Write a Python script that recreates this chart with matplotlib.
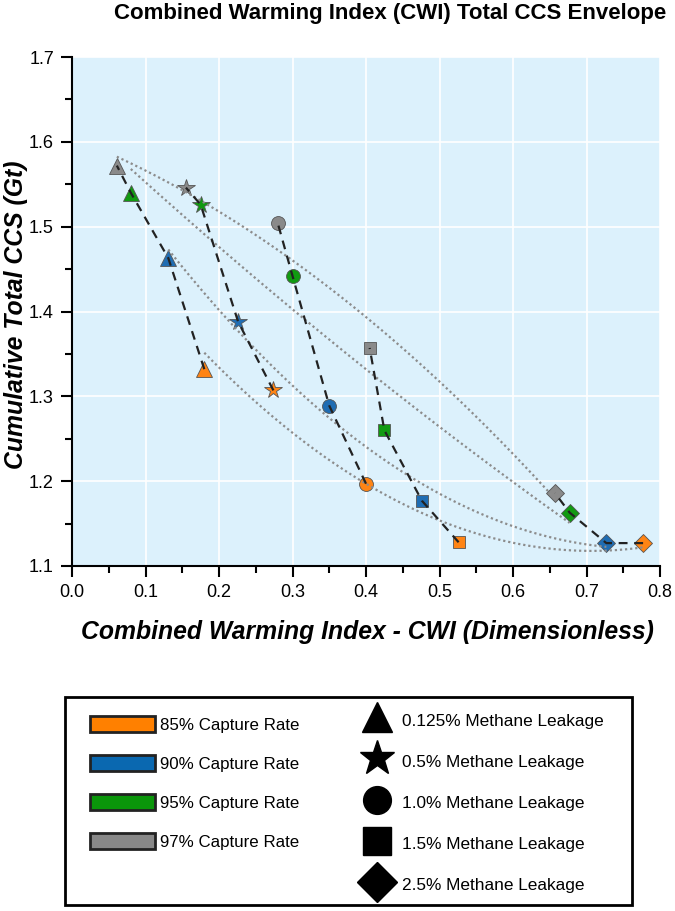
import numpy as np
import matplotlib.pyplot as plt
from matplotlib.lines import Line2D
from matplotlib.patches import Patch, Rectangle

plt.rcParams['font.family'] = ['Liberation Sans', 'DejaVu Sans']

# CWI (x) and cumulative total CCS (y), one list per capture rate,
# points ordered by methane leakage: 0.125%, 0.5%, 1.0%, 1.5%, 2.5%
capture_rates = ['85% Capture Rate', '90% Capture Rate', '95% Capture Rate', '97% Capture Rate']
leakages = ['0.125% Methane Leakage', '0.5% Methane Leakage', '1.0% Methane Leakage',
            '1.5% Methane Leakage', '2.5% Methane Leakage']

cwi_85 = [0.180, 0.274, 0.400, 0.526, 0.777]
ccs_85 = [1.332, 1.307, 1.197, 1.128, 1.127]
cwi_90 = [0.131, 0.226, 0.350, 0.476, 0.727]
ccs_90 = [1.463, 1.388, 1.289, 1.177, 1.127]
cwi_95 = [0.080, 0.175, 0.300, 0.425, 0.677]
ccs_95 = [1.540, 1.526, 1.442, 1.260, 1.163]
cwi_97 = [0.061, 0.155, 0.280, 0.405, 0.657]
ccs_97 = [1.572, 1.546, 1.504, 1.357, 1.186]

cwi = [cwi_85, cwi_90, cwi_95, cwi_97]
ccs = [ccs_85, ccs_90, ccs_95, ccs_97]

colors = ['#ff8414', '#1f6db3', '#119a11', '#8a8a8a']
patch_colors = ['#ff8000', '#0a68b0', '#0a960a', '#888888']
markers = ['^', '*', 'o', 's', 'D']
msizes = [11, 13, 10, 9, 9]

fig = plt.figure(figsize=(6.75, 9.11), dpi=100)
ax = fig.add_axes([72 / 675, 1 - 566 / 911, 588 / 675, 509 / 911])
ax.set_facecolor('#dcf1fc')
ax.grid(True, color='white', lw=1.2)
ax.set_axisbelow(True)

# fitted envelope for each capture rate (dotted)
for i in range(4):
    coef = np.polyfit(cwi[i], ccs[i], 2)
    xs = np.linspace(min(cwi[i]), max(cwi[i]), 200)
    ax.plot(xs, np.polyval(coef, xs), ls=(0, (1, 1.3)), color='#8c8c8c', lw=1.6, zorder=4)

# markers
for i in range(4):
    for j in range(5):
        ax.plot(cwi[i][j], ccs[i][j], marker=markers[j], ms=msizes[j], color=colors[i],
                mec='#555555', mew=0.6, ls='none', zorder=3)

# dashed lines joining same leakage across capture rates
for j in range(5):
    xs = [cwi[i][j] for i in range(4)]
    ys = [ccs[i][j] for i in range(4)]
    ax.plot(xs, ys, ls=(0, (4, 3)), color='#222222', lw=1.6, zorder=5)

ax.set_xlim(0, 0.8)
ax.set_ylim(1.1, 1.7)
ax.set_xticks(np.arange(0, 0.81, 0.1))
ax.set_yticks(np.arange(1.1, 1.71, 0.1))
ax.set_xticks(np.arange(0.05, 0.8, 0.1), minor=True)
ax.set_yticks(np.arange(1.15, 1.7, 0.1), minor=True)
ax.set_xticklabels([f'{v:.1f}' for v in np.arange(0, 0.81, 0.1)])
ax.set_yticklabels([f'{v:.1f}' for v in np.arange(1.1, 1.71, 0.1)])
ax.tick_params(which='major', length=8, width=1.5, labelsize=13, pad=5, direction='out')
ax.tick_params(which='minor', length=5, width=1.5, direction='out')
for s in ['top', 'right']:
    ax.spines[s].set_visible(False)
for s in ['left', 'bottom']:
    ax.spines[s].set_linewidth(1.5)

fig.text(390 / 675, 1 - 13 / 911, 'Combined Warming Index (CWI) Total CCS Envelope',
         ha='center', va='center', fontsize=16, fontweight='bold')
fig.text(367 / 675, 1 - 632 / 911, 'Combined Warming Index - CWI (Dimensionless)',
         ha='center', va='center', fontsize=17.8, fontweight='bold', style='italic')
fig.text(16 / 675, 1 - 315 / 911, 'Cumulative Total CCS (Gt)', rotation=90,
         ha='center', va='center', fontsize=17.8, fontweight='bold', style='italic')

# legend box
fig.patches.append(Rectangle((65 / 675, 1 - 905 / 911), 567 / 675, 208 / 911,
                             transform=fig.transFigure, fill=False, ec='black', lw=2))

h1 = [Patch(facecolor=patch_colors[i], edgecolor='#222222', lw=2) for i in range(4)]
fig.legend(h1, capture_rates, loc='upper left', bbox_to_anchor=(90 / 675, 1 - 716 / 911),
           frameon=False, fontsize=12.2, handlelength=3.85, handleheight=1.1,
           handletextpad=0.3, labelspacing=1.3, borderpad=0, borderaxespad=0)

h2 = [Line2D([], [], marker=markers[j], color='black', ls='none',
             ms=[22, 26, 20, 20, 20][j]) for j in range(5)]
fig.legend(h2, leakages, loc='upper left', bbox_to_anchor=(357 / 675, 1 - 709 / 911),
           frameon=False, fontsize=12.4, handlelength=2.3, handleheight=1.6,
           handletextpad=0.3, labelspacing=1.1, borderpad=0, borderaxespad=0)

fig.savefig('out.png', dpi=100)
